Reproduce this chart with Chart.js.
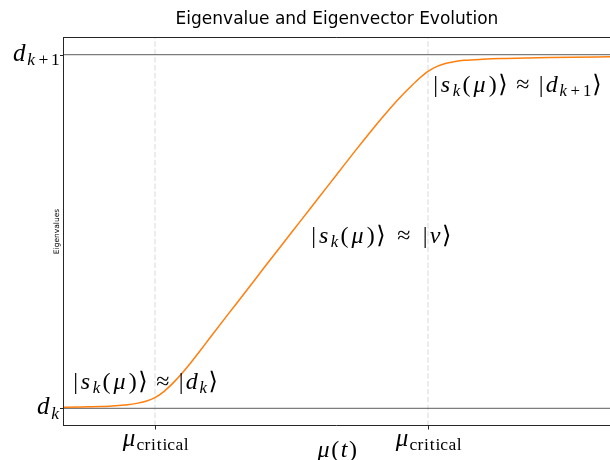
<!DOCTYPE html>
<html>
<head>
<meta charset="utf-8">
<script src="https://cdn.jsdelivr.net/npm/chart.js@4.4.0/dist/chart.umd.min.js"></script>
<style>
  html, body { margin: 0; padding: 0; background: #ffffff; }
  #c { display: block; }
</style>
</head>
<body>
<canvas id="c" width="610" height="460"></canvas>
<script>
// ---------------- data ----------------
const muValues = [0, 0.1, 0.2, 0.25, 0.3, 0.35, 0.4, 0.45, 0.5, 0.55, 0.6, 0.65, 0.7, 0.75, 0.8, 0.9, 1.0,
                  1.1, 1.2, 1.3, 1.4, 1.5, 1.6, 1.7, 1.75, 1.8, 1.85, 1.9, 1.95, 2.0, 2.05, 2.1, 2.15, 2.2, 2.3, 2.4, 2.6, 2.8, 3.0];
const eigenValues = [0.003, 0.004, 0.005, 0.006, 0.008, 0.010, 0.014, 0.020, 0.030, 0.048, 0.072, 0.100, 0.131, 0.164, 0.198, 0.265, 0.331,
                     0.398, 0.464, 0.530, 0.596, 0.662, 0.728, 0.792, 0.823, 0.853, 0.881, 0.907, 0.932, 0.953, 0.967, 0.976, 0.981, 0.984, 0.987, 0.989, 0.991, 0.993, 0.994];
const levelValues = [0, 1];                 // d_k, d_{k+1}
const yTickLabels = ['d_{k}', 'd_{k+1}'];
const criticalMu = [0.5, 2.0];
const xTickLabels = ['μ_{~critical}', 'μ_{~critical}'];
const xRange = [0, 3];
const yRange = [-0.05, 1.05];
const annotationTexts = ['|s_{k}(μ)⟩\u2009≈\u2009|d_{k}⟩', '|s_{k}(μ)⟩ ≈ |v⟩', '|s_{k}(μ)⟩\u2009≈\u2009|d_{k+1}⟩'];
const annotationMu = [0.044, 1.352, 2.022];
const annotationVal = [0.055, 0.467, 0.894];
const titleText = 'Eigenvalue and Eigenvector Evolution';
const xLabel = 'μ(t)';
const yLabel = 'Eigenvalues';

// ---------------- math text helper ----------------
const ADV = { '|': .278, 's': .469, 'k': .521, '(': .389, ')': .389, 'μ': .603, '⟩': .389, '≈': .778,
  'd': .52, 'v': .485, '+': .778, '1': .5, 't': .361, ' ': .278, '\u2009': .167 };
const ROMAN_ADV = { 'c': .444, 'r': .392, 'i': .278, 't': .389, 'a': .5, 'l': .278 };
function parseMath(str) {
  const toks = [];
  let i = 0;
  while (i < str.length) {
    const ch = str[i];
    if (ch === '_') {
      let content;
      if (str[i + 1] === '{') {
        const end = str.indexOf('}', i);
        content = str.slice(i + 2, end);
        i = end + 1;
      } else { content = str[i + 1]; i += 2; }
      let roman = false;
      if (content[0] === '~') { roman = true; content = content.slice(1); }
      for (const c of content) toks.push({ t: c, sub: true, roman });
    } else { toks.push({ t: ch, sub: false, roman: false }); i++; }
  }
  return toks;
}
function fontFor(tok, size) {
  const t = tok.t;
  if (t === '⟩') return `${size}px "DejaVu Sans", "DejaVu Serif", serif`;
  if (/[a-zμ]/.test(t) && !tok.roman) return `italic ${size}px "Liberation Serif", "DejaVu Serif", serif`;
  return `${size}px "Liberation Serif", "DejaVu Serif", serif`;
}
function advFor(tok, size, F) {
  const a = tok.roman ? (ROMAN_ADV[tok.t] || .5) : (ADV[tok.t] || .5);
  return a * size * F;
}
function drawMath(ctx, str, x, y, align, S, F) {
  const toks = parseMath(str);
  let total = 0;
  for (const tk of toks) total += advFor(tk, tk.sub ? S * 0.7 : S, F);
  let cx = align === 'center' ? x - total / 2 : (align === 'right' ? x - total : x);
  ctx.save();
  ctx.textBaseline = 'alphabetic';
  ctx.textAlign = 'left';
  ctx.fillStyle = '#000';
  for (const tk of toks) {
    const size = tk.sub ? S * 0.7 : S;
    const adv = advFor(tk, size, F);
    if (tk.t !== ' ' && tk.t !== '\u2009') {
      ctx.font = fontFor(tk, size);
      const w = ctx.measureText(tk.t).width;
      ctx.fillText(tk.t, cx + (adv - w) / 2, y + (tk.sub ? S * 0.17 : 0));
    }
    cx += adv;
  }
  ctx.restore();
}

// ---------------- decoration plugin ----------------
const decor = {
  id: 'decor',
  afterDatasetsDraw(chart) {
    const { ctx, chartArea: a, scales: { x, y } } = chart;
    ctx.save();
    ctx.strokeStyle = '#262626';
    ctx.lineWidth = 1;
    ctx.beginPath();
    ctx.moveTo(a.left - 0.5, a.top + 0.5); ctx.lineTo(a.right, a.top + 0.5);
    ctx.moveTo(a.left - 0.5, a.top); ctx.lineTo(a.left - 0.5, a.bottom);
    ctx.moveTo(a.left - 1, a.bottom - 0.5); ctx.lineTo(a.right, a.bottom - 0.5);
    criticalMu.forEach(v => { const px = Math.round(x.getPixelForValue(v)) + 0.5; ctx.moveTo(px, a.bottom); ctx.lineTo(px, a.bottom + 3.5); });
    levelValues.forEach(v => { const py = Math.round(y.getPixelForValue(v)) + 0.5; ctx.moveTo(a.left - 0.5, py); ctx.lineTo(a.left - 4, py); });
    ctx.stroke();
    ctx.restore();
  },
  afterDraw(chart) {
    const { ctx, chartArea: a, scales: { x, y } } = chart;
    levelValues.forEach((v, i) => drawMath(ctx, yTickLabels[i], a.left - 4, y.getPixelForValue(v) + 6, 'right', 25, 1.07));
    criticalMu.forEach((v, i) => drawMath(ctx, xTickLabels[i], x.getPixelForValue(v), a.bottom + 20, 'center', 25, 0.99));
    drawMath(ctx, xLabel, (a.left + a.right) / 2, a.bottom + 31, 'center', 24, 0.98);
    ctx.save();
    ctx.font = '7.5px "DejaVu Sans", sans-serif';
    ctx.fillStyle = '#000';
    ctx.textAlign = 'center';
    ctx.textBaseline = 'middle';
    ctx.translate(a.left - 7, (a.top + a.bottom) / 2);
    ctx.rotate(-Math.PI / 2);
    ctx.fillText(yLabel, 0, 0);
    ctx.restore();
    ctx.save();
    ctx.font = '17px "DejaVu Sans", sans-serif';
    ctx.fillStyle = '#000';
    ctx.textAlign = 'center';
    ctx.textBaseline = 'alphabetic';
    ctx.fillText(titleText, (a.left + a.right) / 2, 24);
    ctx.restore();
    annotationTexts.forEach((t, i) => drawMath(ctx, t, x.getPixelForValue(annotationMu[i]), y.getPixelForValue(annotationVal[i]), 'left', 24, 1.1));
  }
};

const curvePoints = muValues.map((m, i) => ({ x: m, y: eigenValues[i] }));
const levelLines = levelValues.map(v => ({
  data: [{ x: xRange[0], y: v }, { x: xRange[1], y: v }],
  borderColor: 'rgba(110,110,110,0.9)', borderWidth: 1.2, pointRadius: 0, order: 2
}));
const critLines = criticalMu.map(m => ({
  data: [{ x: m, y: yRange[0] }, { x: m, y: yRange[1] }],
  borderColor: '#d9d9d9', borderWidth: 1, borderDash: [5.5, 2.4], pointRadius: 0, order: 3
}));

new Chart(document.getElementById('c').getContext('2d'), {
  type: 'line',
  data: {
    datasets: [
      { data: curvePoints, borderColor: '#ff7f0e', borderWidth: 1.5, pointRadius: 0,
        cubicInterpolationMode: 'monotone', order: 1 },
      ...levelLines,
      ...critLines
    ]
  },
  options: {
    responsive: false,
    animation: false,
    devicePixelRatio: 1,
    layout: { padding: { left: 64, right: 0, top: 37, bottom: 34 } },
    scales: {
      x: { type: 'linear', min: xRange[0], max: xRange[1], display: false },
      y: { type: 'linear', min: yRange[0], max: yRange[1], display: false }
    },
    plugins: { legend: { display: false }, tooltip: { enabled: false }, title: { display: false } },
    elements: { point: { radius: 0 } }
  },
  plugins: [decor]
});
</script>
</body>
</html>
